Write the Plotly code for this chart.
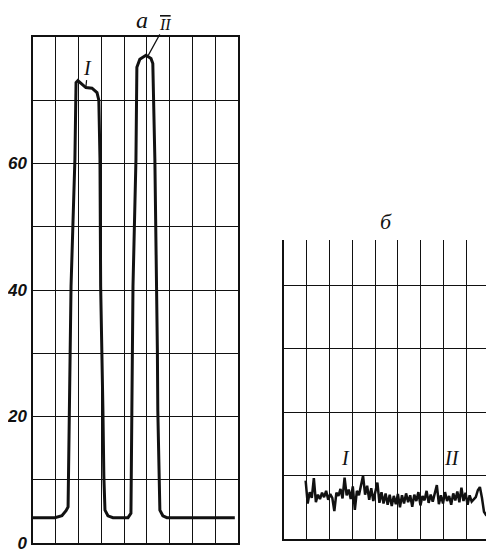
import plotly.graph_objects as go

# ---- data: panel a (left) ----
a_x = [0, 0.96, 1.27, 1.45, 1.54, 1.59, 1.62, 1.67, 1.84, 1.89, 1.97, 2.15, 2.32, 2.59, 2.81, 2.89,
       2.94, 2.97, 3.03, 3.07, 3.11, 3.16, 3.29, 3.51, 4.17, 4.30, 4.34, 4.36, 4.39, 4.52, 4.56,
       4.69, 4.96, 5.18, 5.26, 5.35, 5.44, 5.46, 5.48, 5.57, 5.70, 5.88, 8.86]
a_y = [4.0, 4.0, 4.3, 5.1, 5.7, 20.9, 30.6, 40.6, 60.7, 72.8, 73.1, 72.5, 72.0, 71.9, 71.2, 70.0,
       60.7, 40.6, 30.6, 20.9, 10.6, 5.2, 4.3, 4.0, 4.0, 4.7, 20.9, 30.6, 40.6, 60.7, 75.2,
       76.5, 77.1, 76.6, 75.8, 60.7, 40.6, 30.6, 20.9, 5.2, 4.3, 4.0, 4.0]
a_yticks = [0, 10, 20, 30, 40, 50, 60, 70, 80]
a_yticktext = ["0", "", "20", "", "40", "", "60", "", ""]

# ---- data: panel б (right), noisy trace ----
b_y = [9.2, 5.6, 7.4, 6.5, 9.6, 5.8, 7.0, 6.3, 7.3, 6.6, 7.6, 6.2, 7.1, 6.5, 4.4, 7.3, 6.8, 7.9,
       6.4, 9.7, 6.9, 7.8, 6.3, 8.3, 4.6, 7.6, 6.9, 8.6, 10.0, 7.0, 8.4, 6.2, 8.0, 6.0, 7.6, 8.9,
       5.7, 7.4, 5.6, 7.2, 5.4, 7.0, 5.2, 6.8, 5.5, 7.1, 5.0, 6.9, 5.6, 7.2, 5.8, 6.9, 5.1, 7.0,
       6.0, 7.4, 5.3, 6.8, 6.1, 7.6, 5.7, 7.0, 5.9, 7.3, 8.5, 5.5, 6.9, 5.6, 7.4, 6.0, 6.8, 5.4,
       7.2, 6.1, 7.5, 5.8, 8.1, 6.0, 7.3, 5.4, 6.9, 5.9, 6.3, 6.6, 7.7, 8.2, 6.5, 4.3, 3.8, 3.8]
b_x = [round(0.95 + 0.09 * i, 2) for i in range(len(b_y))]

BLACK = "#111111"

# page has an 8px body margin; figure fills the rest of the window
OFF = 8
W, H = 494 - OFF, 551 - OFF


def px(X):
    return (X - OFF) / W


def py(Y):
    return 1 - (Y - OFF) / H


fig = go.Figure()
fig.add_trace(go.Scatter(x=a_x, y=a_y, mode="lines", line=dict(color=BLACK, width=3),
                         xaxis="x", yaxis="y", hoverinfo="skip", cliponaxis=False))
fig.add_trace(go.Scatter(x=b_x, y=b_y, mode="lines", line=dict(color=BLACK, width=2.5),
                         xaxis="x2", yaxis="y2", hoverinfo="skip", cliponaxis=False))

grid = dict(showgrid=True, gridcolor=BLACK, gridwidth=1, zeroline=False, automargin=False)

fig.update_layout(
    width=W, height=H,
    margin=dict(l=0, r=0, t=0, b=0, autoexpand=False),
    paper_bgcolor="white", plot_bgcolor="white",
    showlegend=False,
    xaxis=dict(domain=[px(33), px(238)], range=[0, 9], tickvals=list(range(10)),
               showticklabels=False, ticks="", showline=True, mirror=True,
               linecolor=BLACK, linewidth=1.5, **grid),
    yaxis=dict(domain=[py(543), py(37)], range=[0, 80], tickvals=a_yticks,
               ticktext=a_yticktext, ticks="", showline=True, mirror=True,
               linecolor=BLACK, linewidth=1.5, ticklabeloverflow="allow",
               tickfont=dict(family="Liberation Sans Narrow, Liberation Sans", size=17,
                             color=BLACK, style="italic", weight="bold"),
               ticklabelstandoff=1, **grid),
    xaxis2=dict(domain=[px(284), px(489)], range=[0, 9], tickvals=list(range(10)),
                showticklabels=False, ticks="", showline=True, linecolor=BLACK, linewidth=1.5,
                anchor="y2", **grid),
    yaxis2=dict(domain=[py(539), py(240)], range=[0, 47.2], tickvals=[10, 20, 30, 40],
                showticklabels=False, ticks="", showline=True, linecolor=BLACK, linewidth=1.5,
                anchor="x2", **grid),
)

serif = dict(family="Liberation Serif", size=20, color=BLACK, style="italic")

# peak labels on panel a, pointing at the series
i1 = 12
i2 = a_y.index(max(a_y))
fig.add_annotation(x=a_x[i1], y=a_y[i1], xref="x", yref="y", text="I", showarrow=True,
                   arrowhead=0, arrowwidth=1.2, arrowcolor=BLACK, ax=2, ay=-20,
                   font=serif)
fig.add_annotation(x=a_x[i2] + 0.1, y=a_y[i2], xref="x", yref="y",
                   text="<span style='text-decoration:overline'>II</span>", showarrow=True,
                   arrowhead=0, arrowwidth=1.2, arrowcolor=BLACK, ax=17, ay=-31,
                   font=dict(family="Liberation Serif", size=16, color=BLACK, style="italic"))
# panel titles
fig.add_annotation(x=px(142), y=py(20), xref="paper", yref="paper", text="а",
                   xanchor="center", yanchor="middle", showarrow=False,
                   font=dict(family="Liberation Serif", size=24, color=BLACK, style="italic"))
fig.add_annotation(x=px(386), y=py(221), xref="paper", yref="paper", text="б",
                   xanchor="center", yanchor="middle", showarrow=False,
                   font=dict(family="Liberation Serif", size=22, color=BLACK, style="italic"))
# labels on panel б
fig.add_annotation(x=2.68, y=12.8, xref="x2", yref="y2", text="I", showarrow=False, font=serif)
fig.add_annotation(x=7.37, y=12.8, xref="x2", yref="y2", text="II", showarrow=False, font=serif)

fig.write_html("out.html")
